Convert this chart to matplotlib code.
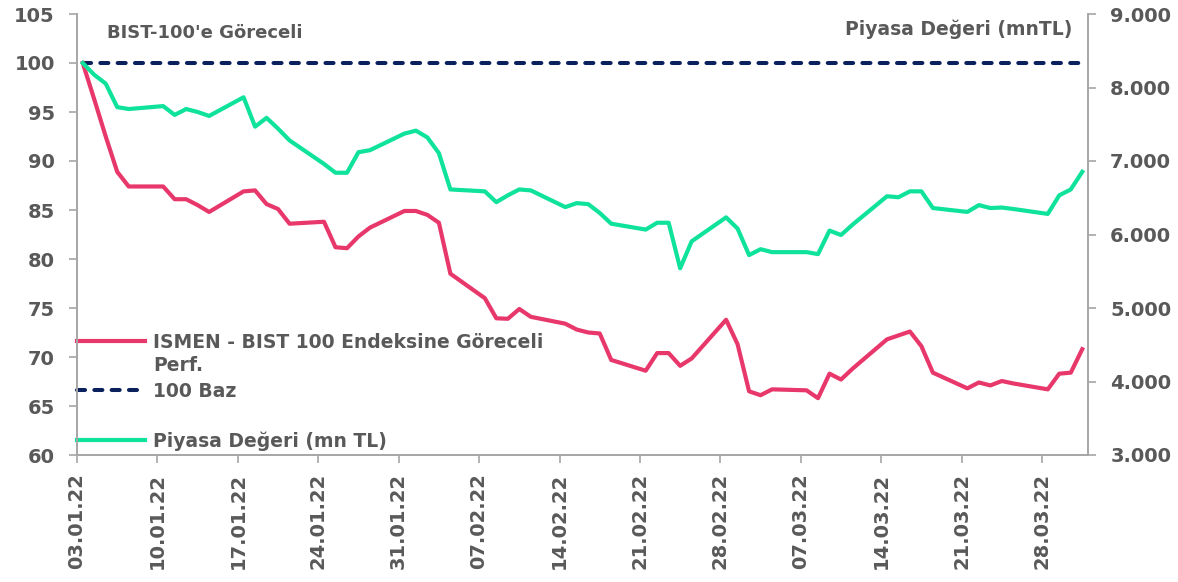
import numpy as np
import pandas as pd
import matplotlib
matplotlib.use("Agg")
import matplotlib.pyplot as plt
import matplotlib.dates as mdates
from matplotlib.ticker import FuncFormatter, MultipleLocator

# business days shown on the chart (03.01.22 - 31.03.22)
DATES = pd.bdate_range("2022-01-03", "2022-03-31")

# ISMEN relative to BIST 100 (left axis)
REL_PERF = [
    100, 96.3, 92.5, 88.9, 87.4,
    87.4, 86.1, 86.1, 85.5, 84.8,
    86.9, 87.0, 85.6, 85.1, 83.6,
    83.8, 81.2, 81.1, 82.3, 83.2,
    84.9, 84.9, 84.5, 83.7, 78.5,
    76.0, 73.95, 73.9, 74.9, 74.1,
    73.4, 72.8, 72.5, 72.4, 69.7,
    68.6, 70.4, 70.4, 69.1, 69.85,
    73.8, 71.3, 66.5, 66.1, 66.7,
    66.6, 65.8, 68.3, 67.7, 68.8,
    71.8, 72.2, 72.6, 71.1, 68.4,
    66.8, 67.4, 67.1, 67.55, 67.3,
    66.7, 68.3, 68.4, 70.8,
]

# market cap, mn TL (right axis)
MCAP = [
    8333, 8173, 8053, 7733, 7707,
    7747, 7627, 7707, 7667, 7613,
    7867, 7467, 7587, 7440, 7280,
    6960, 6840, 6840, 7120, 7147,
    7373, 7413, 7320, 7107, 6613,
    6587, 6440, 6533, 6613, 6600,
    6373, 6427, 6413, 6293, 6147,
    6067, 6160, 6160, 5540, 5907,
    6233, 6080, 5720, 5800, 5760,
    5760, 5733, 6053, 5993, 6133,
    6520, 6507, 6587, 6587, 6360,
    6307, 6400, 6360, 6367, 6347,
    6280, 6533, 6613, 6853,
]

BASE = [100] * len(DATES)

LABELS = ["ISMEN - BIST 100 Endeksine Göreceli", "Perf.", "100 Baz", "Piyasa Değeri (mn TL)"]

PINK = "#E8386B"
GREEN = "#0FE29B"
NAVY = "#0A215E"
TXT = "#595959"
AXC = "#A6A6A6"

plt.rcParams["font.family"] = ["DejaVu Sans"]
plt.rcParams["font.weight"] = "bold"

fig = plt.figure(figsize=(11.78, 5.82), dpi=100)
ax = fig.add_axes([77 / 1178, 1 - 455 / 582, (1088 - 77) / 1178, (455 - 14) / 582])
ax2 = ax.twinx()

x = DATES + pd.Timedelta(hours=12)

ax.plot(x, REL_PERF, color=PINK, lw=3.0, solid_joinstyle="round", zorder=3)
ax.plot(x, BASE, color=NAVY, lw=2.9, dashes=(2.0, 2.3), dash_capstyle="round", zorder=2)
ax2.plot(x, MCAP, color=GREEN, lw=3.0, solid_joinstyle="round", zorder=3)

ax.set_xlim(pd.Timestamp("2022-01-03"), pd.Timestamp("2022-04-01"))
ax.set_ylim(60, 105)
ax.yaxis.set_major_locator(MultipleLocator(5))
ax2.set_ylim(3000, 9000)
ax2.yaxis.set_major_locator(MultipleLocator(1000))
ax2.yaxis.set_major_formatter(FuncFormatter(lambda v, p: f"{v:,.0f}".replace(",", ".")))

ticks = pd.date_range("2022-01-03", "2022-03-28", freq="7D")
ax.set_xticks(ticks)
ax.xaxis.set_major_formatter(mdates.DateFormatter("%d.%m.%y"))

for a in (ax, ax2):
    a.spines["top"].set_visible(False)
    for s in ("left", "right", "bottom"):
        a.spines[s].set_color(AXC)
        a.spines[s].set_linewidth(1.2)

ax.tick_params(axis="y", direction="out", length=6, width=1.2, color=AXC,
               labelsize=14, labelcolor=TXT, pad=10)
ax2.tick_params(axis="y", direction="out", length=6, width=1.2, color=AXC,
                labelsize=14, labelcolor=TXT, pad=10)
ax.tick_params(axis="x", direction="out", length=6, width=1.2, color=AXC,
               labelsize=14, labelcolor=TXT, pad=7, labelrotation=90)
for lab in ax.get_yticklabels() + ax2.get_yticklabels() + ax.get_xticklabels():
    lab.set_fontweight("bold")

# titles
ax.text(0.0297, 0.946, "BIST-100'e Göreceli", transform=ax.transAxes,
        fontsize=13, color=TXT, fontweight="bold", va="baseline", ha="left")
ax.text(0.985, 0.952, "Piyasa Değeri (mnTL)", transform=ax.transAxes,
        fontsize=13.5, color=TXT, fontweight="bold", va="baseline", ha="right")

# legend drawn by hand inside the axes
def ay(py):
    return (455 - py) / 441

hx = [0.0, 68 / 1011]
tx = 76 / 1011
ax.plot(hx, [ay(341)] * 2, transform=ax.transAxes, color=PINK, lw=3.0, clip_on=False)
ax.plot(hx, [ay(390)] * 2, transform=ax.transAxes, color=NAVY, lw=2.9,
        dashes=(2.0, 2.3), dash_capstyle="round", clip_on=False)
ax.plot(hx, [ay(440)] * 2, transform=ax.transAxes, color=GREEN, lw=3.0, clip_on=False)
for txt, py in zip(LABELS, [348.3, 371, 397.3, 446.7]):
    ax.text(tx, ay(py), txt, transform=ax.transAxes, fontsize=13.5, color=TXT,
            fontweight="bold", va="baseline", ha="left")

fig.savefig("out.png", dpi=100)
